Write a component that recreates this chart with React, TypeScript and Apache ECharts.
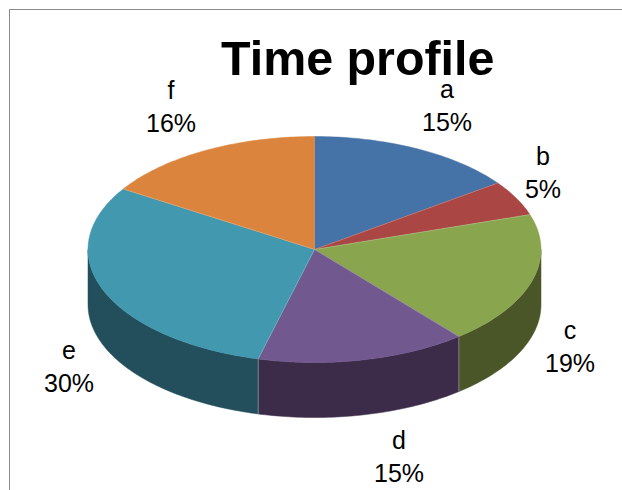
import React, { useEffect, useRef } from "react";
import * as echarts from "echarts";

const sliceNames = ["a", "b", "c", "d", "e", "f"];
const slicePercents = [15, 5, 19, 15, 30, 16];
const topColors = ["#4572a7", "#aa4643", "#89a54e", "#71588f", "#4198af", "#db843d"];
const wallColors = ["#294566", "#672a28", "#4a5528", "#3c2c4a", "#234e5b", "#85501f"];
// Centre of each two-line slice label.
const labelCentres = [
  [447, 105],
  [543, 172],
  [570, 346],
  [399, 456],
  [69, 366],
  [171, 106],
];

const CX = 314.5;
const CY = 249.5;
const RX = 226.5;
const RY = 113;
const DEPTH = 55;
const FONT = '"Liberation Sans", Arial, sans-serif';

const rad = (deg: number) => (deg * Math.PI) / 180;
// Angles run clockwise from twelve o'clock, on the squashed ellipse of the pie's top face.
const rimPoint = (deg: number, drop = 0) => [
  CX + RX * Math.sin(rad(deg)),
  CY - RY * Math.cos(rad(deg)) + drop,
];

const arcPoints = (from: number, to: number, drop = 0) => {
  const steps = Math.max(2, Math.ceil(to - from));
  const pts: number[][] = [];
  for (let i = 0; i <= steps; i++) pts.push(rimPoint(from + ((to - from) * i) / steps, drop));
  return pts;
};

const total = slicePercents.reduce((s, v) => s + v, 0);

function renderSlice(params: any, api: any) {
  const i = params.dataIndex;
  const before = slicePercents.slice(0, i).reduce((s, v) => s + v, 0);
  const start = (before / total) * 360;
  const end = start + (api.value(0) / total) * 360;
  const children: any[] = [];

  // Only the part of the rim facing the viewer shows a wall.
  const wallFrom = Math.max(start, 90);
  const wallTo = Math.min(end, 270);
  if (wallFrom < wallTo) {
    const upper = arcPoints(wallFrom, wallTo);
    const lower = arcPoints(wallFrom, wallTo, DEPTH).reverse();
    children.push({
      type: "polygon",
      shape: { points: upper.concat(lower) },
      style: { fill: wallColors[i], stroke: wallColors[i], lineWidth: 0.5 },
    });
    if (start >= 90) {
      const [x, y] = rimPoint(start);
      children.push({
        type: "line",
        shape: { x1: x, y1: y, x2: x, y2: y + DEPTH },
        style: { stroke: "rgba(255,255,255,0.35)", lineWidth: 1 },
      });
    }
  }

  children.push({
    type: "polygon",
    shape: { points: [[CX, CY], ...arcPoints(start, end)] },
    style: { fill: topColors[i], stroke: topColors[i], lineWidth: 0.5 },
  });

  const [ex, ey] = rimPoint(start);
  children.push({
    type: "line",
    shape: { x1: CX, y1: CY, x2: ex, y2: ey },
    style: { stroke: "rgba(255,255,255,0.25)", lineWidth: 0.8 },
  });

  const [lx, ly] = labelCentres[i];
  children.push({
    type: "text",
    x: lx,
    y: ly,
    z2: 10,
    style: {
      text: `${sliceNames[i]}\n${api.value(0)}%`,
      fill: "#000000",
      font: `25px ${FONT}`,
      lineHeight: 33,
      align: "center",
      verticalAlign: "middle",
    },
  });

  return { type: "group", children };
}

export default function App() {
  const ref = useRef<HTMLDivElement>(null);

  useEffect(() => {
    const chart = echarts.init(ref.current!, null, { renderer: "svg" });
    chart.setOption({
      animation: false,
      backgroundColor: "#ffffff",
      title: {
        text: "Time profile",
        left: 216,
        top: 29,
        textStyle: { fontFamily: FONT, fontSize: 48.4, fontWeight: "bold", color: "#000000" },
      },
      graphic: [
        {
          type: "polyline",
          shape: { points: [[622, 9.5], [9.5, 9.5], [9.5, 490]] },
          style: { stroke: "#8a8a8a", lineWidth: 1, fill: "none" },
        },
      ],
      series: [
        {
          type: "custom",
          coordinateSystem: "none",
          data: slicePercents.map((value, i) => ({ name: sliceNames[i], value })),
          renderItem: renderSlice,
          clip: false,
        },
      ],
    });
    return () => chart.dispose();
  }, []);

  return (
    <div
      ref={ref}
      style={{ position: "fixed", left: 0, top: 0, width: 622, height: 490 }}
    />
  );
}
